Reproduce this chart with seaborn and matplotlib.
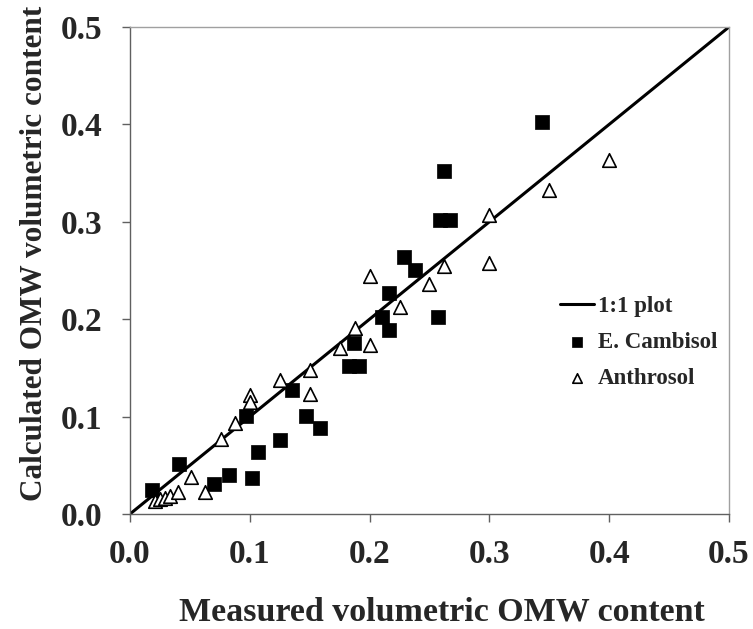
import numpy as np
import pandas as pd
import matplotlib
matplotlib.use("Agg")
import matplotlib.pyplot as plt
import seaborn as sns

# Measured vs calculated volumetric OMW content
cambisol_measured = [0.018, 0.041, 0.070, 0.083, 0.102, 0.107, 0.125, 0.097, 0.147, 0.135,
                     0.159, 0.229, 0.238, 0.216, 0.210, 0.216, 0.257, 0.187, 0.183, 0.191,
                     0.344, 0.262, 0.259, 0.267]
cambisol_calculated = [0.025, 0.051, 0.031, 0.040, 0.037, 0.064, 0.076, 0.101, 0.101, 0.127,
                       0.088, 0.264, 0.251, 0.227, 0.202, 0.189, 0.202, 0.176, 0.152, 0.152,
                       0.402, 0.352, 0.302, 0.302]

anthrosol_measured = [0.021, 0.025, 0.029, 0.033, 0.040, 0.051, 0.063, 0.076, 0.088, 0.100,
                      0.100, 0.125, 0.150, 0.150, 0.175, 0.188, 0.200, 0.200, 0.225, 0.250,
                      0.262, 0.300, 0.300, 0.350, 0.400]
anthrosol_calculated = [0.013, 0.015, 0.016, 0.018, 0.023, 0.038, 0.023, 0.077, 0.093, 0.122,
                        0.115, 0.138, 0.123, 0.148, 0.170, 0.191, 0.174, 0.244, 0.213, 0.236,
                        0.255, 0.307, 0.258, 0.333, 0.363]

one_to_one = [0.0, 0.5]

x_ticks = [0.0, 0.1, 0.2, 0.3, 0.4, 0.5]
y_ticks = [0.0, 0.1, 0.2, 0.3, 0.4, 0.5]

sns.set_theme(style="white")
plt.rcParams["font.family"] = ["Liberation Serif", "DejaVu Serif"]
plt.rcParams["font.weight"] = "bold"

fig = plt.figure(figsize=(7.53, 6.29), dpi=100)
ax = fig.add_axes([0.1726, 0.1828, 0.7955, 0.7743])

line_df = pd.DataFrame({"x": one_to_one, "y": one_to_one})
sns.lineplot(data=line_df, x="x", y="y", ax=ax, color="black", linewidth=2.2,
             label="1:1 plot")

camb_df = pd.DataFrame({"x": cambisol_measured, "y": cambisol_calculated})
sns.scatterplot(data=camb_df, x="x", y="y", ax=ax, marker="s", s=90,
                color="black", edgecolor="black", linewidth=0.5,
                label="E. Cambisol", zorder=3)

anth_df = pd.DataFrame({"x": anthrosol_measured, "y": anthrosol_calculated})
sns.scatterplot(data=anth_df, x="x", y="y", ax=ax, marker="^", s=95,
                facecolor="white", edgecolor="black", linewidth=1.2,
                label="Anthrosol", zorder=4)

ax.set_xlim(0, 0.5)
ax.set_ylim(0, 0.5)
ax.set_xticks(x_ticks)
ax.set_yticks(y_ticks)
ax.set_xticklabels([f"{t:.1f}" for t in x_ticks], fontsize=24, fontweight="bold")
ax.set_yticklabels([f"{t:.1f}" for t in y_ticks], fontsize=24, fontweight="bold")
ax.tick_params(axis="both", direction="out", length=6, width=1, color="#606060",
               bottom=True, left=True, top=False, right=False)
ax.tick_params(axis="x", pad=12)
ax.tick_params(axis="y", pad=14)

ax.set_xlabel("Measured volumetric OMW content", fontsize=24.5, fontweight="bold")
ax.set_ylabel("Calculated OMW volumetric content", fontsize=22.5, fontweight="bold")
ax.xaxis.set_label_coords(0.521, -0.170)
ax.yaxis.set_label_coords(-0.136, 0.535)

for side in ["left", "bottom"]:
    ax.spines[side].set_color("#606060")
    ax.spines[side].set_linewidth(1.0)
for side in ["top", "right"]:
    ax.spines[side].set_color("#a0a0a0")
    ax.spines[side].set_linewidth(1.0)

leg = ax.legend(loc="center left", bbox_to_anchor=(0.718, 0.353), frameon=False,
                prop={"family": "Liberation Serif", "weight": "bold", "size": 16.5},
                handlelength=1.5, handletextpad=0.15, labelspacing=0.65,
                borderpad=0, borderaxespad=0, markerscale=0.7)

fig.savefig("out.png", dpi=100)
